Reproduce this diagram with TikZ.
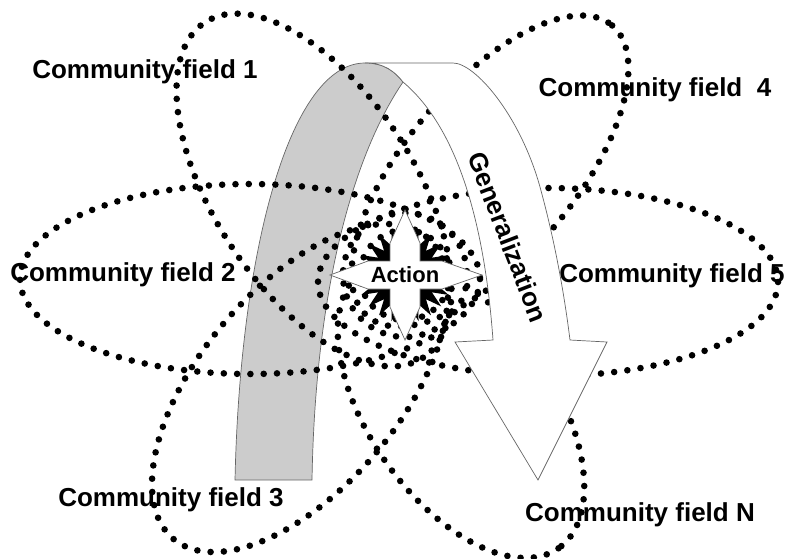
\documentclass[tikz,border=0pt]{standalone}
\usepackage{fontspec}
\setmainfont{Liberation Sans}
\usetikzlibrary{shapes.geometric}

\begin{document}
\begin{tikzpicture}[
    x=1pt, y=-1pt,
    field/.style={font=\fontsize{26}{30}\selectfont\bfseries, inner sep=0pt},
    dotline/.style={line width=6.6pt, line cap=round, dash pattern=on 0pt off 13.3pt},
    band/.style={draw=gray!80!black, line width=0.7pt},
    burst/.style={star, star points=22, star point ratio=1.5, fill=black, minimum size=96pt, inner sep=0pt},
    quad/.style={draw=gray!80!black, line width=0.7pt, fill=white}
]
\useasboundingbox (0,0) rectangle (789,558);

% Back leg of the turning arrow
\draw[band, fill=gray!40] (235,480) .. controls (240,250) and (290,63) .. (365,63)
    .. controls (385,63) and (395,72) .. (403,82)
    .. controls (350,160) and (315,300) .. (312,480) -- cycle;

% Labels
\node[field] (f1) at (145,72) {Community field 1};
\node[field] (f4) at (655,90) {Community field\ \ 4};
\node[field] (f2) at (123,275) {Community field 2};
\node[field] (f5) at (672,276) {Community field 5};
\node[field] (f3) at (171,500) {Community field 3};
\node[field] (fN) at (640,515) {Community field N};

% Community fields
\draw[dotline] (314,190) ellipse [x radius=200, y radius=100, rotate=-57];
\draw[dotline] (490,171) ellipse [x radius=190, y radius=85, rotate=50];
\draw[dotline] (250,279) ellipse [x radius=230, y radius=95];
\draw[dotline] (548,282) ellipse [x radius=230, y radius=94];
\draw[dotline] (300,388) ellipse [x radius=197, y radius=100, rotate=50];
\draw[dotline] (461,409) ellipse [x radius=170, y radius=92, rotate=-55];

% Rings round the action
\draw[dotline] (405,275) circle [radius=45];
\draw[dotline] (405,275) circle [radius=62];

% Front of the turning arrow
\draw[band, fill=white] (365,63) -- (453,63)
    .. controls (475,63) and (520,115) .. (540,187)
    .. controls (556,245) and (565,300) .. (570,340)
    -- (607,342) -- (538,480) -- (455,342) -- (493,340)
    .. controls (485,230) and (460,130) .. (403,82)
    .. controls (395,72) and (385,63) .. (365,63) -- cycle;
\node[field, rotate=-69] (gen) at (508,237) {Generalization};

% Action
\node[burst] (boom) at (405,275) {};
\draw[quad] (330,275) -- (368,261) -- (390,261) -- (390,243) -- (405,210) -- (420,243)
    -- (420,261) -- (442,261) -- (482,275) -- (442,289) -- (420,289) -- (420,307)
    -- (405,340) -- (390,307) -- (390,289) -- (368,289) -- cycle;
\node[font=\fontsize{22}{26}\selectfont\bfseries, inner sep=0pt] (action) at (405,275) {Action};

\end{tikzpicture}
\end{document}
